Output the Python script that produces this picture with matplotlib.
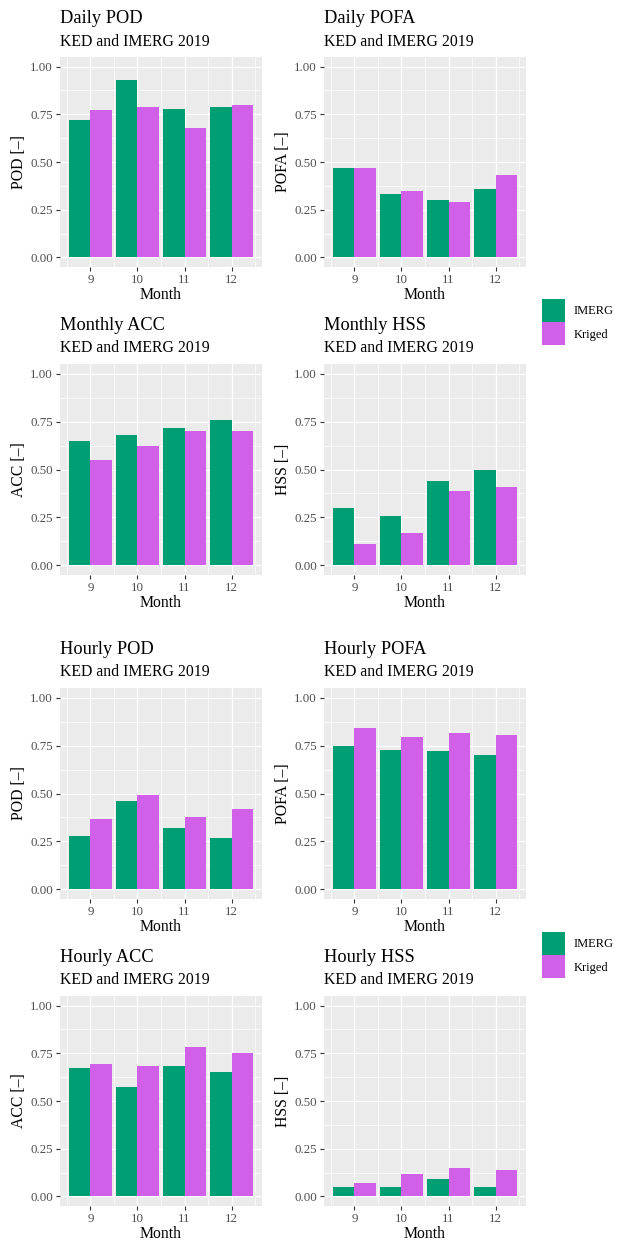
import matplotlib
matplotlib.use("Agg")
import matplotlib.pyplot as plt
from matplotlib.patches import Patch
from matplotlib.ticker import FixedLocator, FormatStrFormatter

plt.rcParams.update({
    "font.family": "Liberation Serif",
    "font.size": 9,
})

# ============================================================
# Data
# ============================================================

months = [9, 10, 11, 12]
series_names = ["IMERG", "Kriged"]
subtitle = "KED and IMERG 2019"

daily_pod_imerg = [0.72, 0.93, 0.78, 0.79]
daily_pod_kriged = [0.77, 0.79, 0.68, 0.80]

daily_pofa_imerg = [0.466, 0.33, 0.30, 0.357]
daily_pofa_kriged = [0.466, 0.346, 0.289, 0.431]

monthly_acc_imerg = [0.65, 0.682, 0.718, 0.76]
monthly_acc_kriged = [0.551, 0.621, 0.703, 0.703]

monthly_hss_imerg = [0.301, 0.259, 0.442, 0.499]
monthly_hss_kriged = [0.113, 0.17, 0.39, 0.41]

hourly_pod_imerg = [0.279, 0.462, 0.321, 0.269]
hourly_pod_kriged = [0.368, 0.49, 0.379, 0.421]

hourly_pofa_imerg = [0.75, 0.729, 0.719, 0.703]
hourly_pofa_kriged = [0.839, 0.792, 0.813, 0.803]

hourly_acc_imerg = [0.672, 0.573, 0.683, 0.652]
hourly_acc_kriged = [0.693, 0.683, 0.782, 0.751]

hourly_hss_imerg = [0.051, 0.051, 0.092, 0.051]
hourly_hss_kriged = [0.071, 0.118, 0.15, 0.139]

# ============================================================
# Style
# ============================================================

W, H = 626, 1242
col_imerg = "#009E73"
col_kriged = "#D060E8"
panel_bg = "#EBEBEB"

fig = plt.figure(figsize=(W / 100, H / 100), dpi=100)

# panel boxes in pixels: (left, top, right, bottom)
cols_px = [(60, 262), (324, 526)]
rows_px = [(57, 267), (364, 575), (688, 899), (996, 1206)]


def add_panel(row, col, title, ylab, imerg, kriged):
    x0, x1 = cols_px[col]
    y0, y1 = rows_px[row]
    ax = fig.add_axes([x0 / W, 1 - y1 / H, (x1 - x0) / W, (y1 - y0) / H])
    ax.set_facecolor(panel_bg)
    for s in ax.spines.values():
        s.set_visible(False)

    w = 0.45
    ax.bar([m - w / 2 for m in months], imerg, width=w, color=col_imerg, zorder=3)
    ax.bar([m + w / 2 for m in months], kriged, width=w, color=col_kriged, zorder=3)

    ax.set_xlim(8.355, 12.645)
    ax.set_ylim(-0.05, 1.05)
    ax.xaxis.set_major_locator(FixedLocator(months))
    ax.xaxis.set_minor_locator(FixedLocator([8.5, 9.5, 10.5, 11.5, 12.5]))
    ax.yaxis.set_major_locator(FixedLocator([0, 0.25, 0.5, 0.75, 1.0]))
    ax.yaxis.set_minor_locator(FixedLocator([0.125, 0.375, 0.625, 0.875]))
    ax.yaxis.set_major_formatter(FormatStrFormatter("%.2f"))

    ax.grid(which="major", color="white", linewidth=0.9, zorder=0)
    ax.grid(which="minor", color="white", linewidth=0.45, zorder=0)
    ax.set_axisbelow(True)
    ax.tick_params(which="major", length=3, width=0.8, color="#333333",
                   labelcolor="#4D4D4D", labelsize=9.3, pad=2)
    ax.tick_params(which="minor", length=0)

    ax.set_xlabel("Month", fontsize=11.3, labelpad=0.5)
    ax.set_ylabel(ylab, fontsize=11.3, labelpad=2.5)

    fig.text(x0 / W, 1 - (y0 - 38.5) / H, title, fontsize=13.2,
             ha="left", va="center")
    fig.text(x0 / W, 1 - (y0 - 15.5) / H, subtitle, fontsize=11.3,
             ha="left", va="center")
    return ax


add_panel(0, 0, "Daily POD", "POD [–]", daily_pod_imerg, daily_pod_kriged)
add_panel(0, 1, "Daily POFA", "POFA [–]", daily_pofa_imerg, daily_pofa_kriged)
add_panel(1, 0, "Monthly ACC", "ACC [–]", monthly_acc_imerg, monthly_acc_kriged)
add_panel(1, 1, "Monthly HSS", "HSS [–]", monthly_hss_imerg, monthly_hss_kriged)
add_panel(2, 0, "Hourly POD", "POD [–]", hourly_pod_imerg, hourly_pod_kriged)
add_panel(2, 1, "Hourly POFA", "POFA [–]", hourly_pofa_imerg, hourly_pofa_kriged)
add_panel(3, 0, "Hourly ACC", "ACC [–]", hourly_acc_imerg, hourly_acc_kriged)
add_panel(3, 1, "Hourly HSS", "HSS [–]", hourly_hss_imerg, hourly_hss_kriged)

# ============================================================
# Legends (one per half)
# ============================================================

handles = [Patch(facecolor=col_imerg), Patch(facecolor=col_kriged)]
for yc in (322, 955):
    fig.legend(handles, series_names, loc="center left",
               bbox_to_anchor=(542 / W, 1 - yc / H),
               frameon=False, borderpad=0, borderaxespad=0,
               handlelength=1.84, handleheight=2.45, labelspacing=0.05,
               handletextpad=0.72, fontsize=9)

fig.savefig("out.png", dpi=100)
